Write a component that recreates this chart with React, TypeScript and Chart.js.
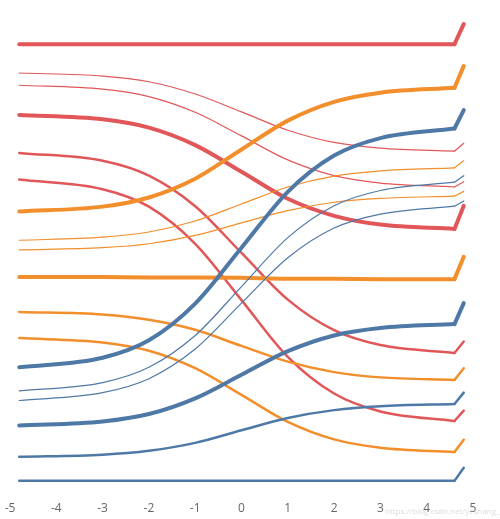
import React, { useEffect, useRef } from "react";
import { Chart, registerables } from "chart.js";

Chart.register(...registerables);

// x positions where each curve was read (sigmoid runs from left to right)
const xPositions = [-4.8, -3, -2, -1, 0, 1, 2, 3, 4.6];
const hookX = 4.8;
const xTicks = [-5, -4, -3, -2, -1, 0, 1, 2, 3, 4, 5];

// red series
const red1 = [100, 100, 100, 100, 100, 100, 100, 100, 100];
const red2 = [93.4, 92.7, 91.4, 88.6, 84.5, 80.3, 77.5, 76.2, 75.5];
const red3 = [90.6, 89.7, 88.0, 84.4, 79.0, 73.5, 69.9, 68.2, 67.3];
const red4 = [83.8, 82.8, 80.9, 76.9, 70.8, 64.6, 60.7, 58.7, 57.7];
const red5 = [75.1, 73.3, 69.9, 62.9, 52.2, 41.5, 34.5, 31.1, 29.3];
const red6 = [69.0, 66.8, 62.8, 54.3, 41.4, 28.4, 20.0, 15.9, 13.7];
const redHook = [104.6, 77.3, 68.5, 63.0, 31.9, 16.1];

// orange series
const orange1 = [61.7, 62.8, 64.9, 69.2, 75.9, 82.5, 86.8, 88.9, 90.0];
const orange2 = [55.1, 55.8, 57.0, 59.5, 63.4, 67.3, 69.8, 71.0, 71.7];
const orange3 = [52.9, 53.4, 54.3, 56.2, 59.1, 61.9, 63.8, 64.7, 65.2];
const orange4 = [46.7, 46.7, 46.6, 46.6, 46.5, 46.3, 46.3, 46.2, 46.2];
const orange5 = [38.7, 38.1, 36.9, 34.6, 30.9, 27.3, 24.9, 23.7, 23.1];
const orange6 = [32.7, 31.7, 29.8, 25.8, 19.7, 13.5, 9.5, 7.6, 6.6];
const orangeHook = [95.0, 73.3, 66.3, 51.3, 25.8, 9.4];

// blue series
const blue1 = [26.0, 28.2, 32.2, 40.6, 53.4, 66.2, 74.5, 78.5, 80.7];
const blue2 = [20.6, 22.5, 26.0, 33.3, 44.5, 55.7, 63.0, 66.5, 68.4];
const blue3 = [18.4, 20.2, 23.4, 30.2, 40.7, 51.1, 57.9, 61.1, 62.9];
const blue4 = [12.7, 13.6, 15.3, 18.9, 24.3, 29.7, 33.3, 35.0, 35.9];
const blue5 = [5.5, 6.0, 6.9, 8.7, 11.6, 14.4, 16.2, 17.1, 17.6];
const blue6 = [0, 0, 0, 0, 0, 0, 0, 0, 0];
const blueHook = [84.9, 69.9, 64.1, 40.7, 20.2, 3.0];

// styles
const COLORS = { red: "#E15759", orange: "#F28E2B", blue: "#4E79A7" };
const widthPattern = [4, 1.2, 1.2, 4, 2.5, 2.5];

const groups = [
  { color: COLORS.blue, series: [blue1, blue2, blue3, blue4, blue5, blue6], hooks: blueHook },
  { color: COLORS.orange, series: [orange1, orange2, orange3, orange4, orange5, orange6], hooks: orangeHook },
  { color: COLORS.red, series: [red1, red2, red3, red4, red5, red6], hooks: redHook },
];

function buildDatasets() {
  const ds: any[] = [];
  groups.forEach((g) => {
    g.series.forEach((vals, i) => {
      const w = widthPattern[i];
      const common = {
        borderColor: g.color,
        backgroundColor: g.color,
        borderWidth: w,
        pointRadius: 0,
        pointHoverRadius: 0,
        borderCapStyle: "round",
        borderJoinStyle: "round",
        fill: false,
      };
      ds.push({
        ...common,
        data: vals.map((v, k) => ({ x: xPositions[k], y: v })),
        cubicInterpolationMode: "monotone",
      });
      ds.push({
        ...common,
        data: [
          { x: xPositions[xPositions.length - 1], y: vals[vals.length - 1] },
          { x: hookX, y: g.hooks[i] },
        ],
        tension: 0,
      });
    });
  });
  return ds;
}

export default function App() {
  const ref = useRef<HTMLCanvasElement | null>(null);
  useEffect(() => {
    if (!ref.current) return;
    const chart = new Chart(ref.current, {
      type: "line",
      data: { datasets: buildDatasets() },
      options: {
        animation: false,
        responsive: false,
        maintainAspectRatio: false,
        layout: { padding: { left: 10, right: 27, top: 18, bottom: 0 } },
        plugins: { legend: { display: false }, tooltip: { enabled: false } },
        scales: {
          x: {
            type: "linear",
            min: -5,
            max: 5,
            afterBuildTicks: (axis: any) => {
              axis.ticks = xTicks.map((v) => ({ value: v }));
            },
            grid: { display: false, drawTicks: true, tickLength: 9 },
            border: { display: false },
            ticks: {
              padding: 3,
              color: "#666",
              font: { family: "'Open Sans', sans-serif", size: 12 },
              maxRotation: 0,
              autoSkip: false,
            },
          },
          y: { display: false, min: -2, max: 106 },
        },
      },
    });
    return () => chart.destroy();
  }, []);
  return (
    <div style={{ position: "fixed", left: 0, top: 0, width: 500, height: 519, background: "#fff" }}>
      <canvas ref={ref} width={500} height={519} style={{ display: "block", width: 500, height: 519 }} />
      <div
        style={{
          position: "absolute",
          left: 385,
          top: 505,
          fontFamily: "'Open Sans', sans-serif",
          fontSize: 8,
          color: "rgba(190,190,190,0.55)",
          whiteSpace: "nowrap",
          pointerEvents: "none",
        }}
      >
        https://blog.csdn.net/yeshang_lady
      </div>
    </div>
  );
}
